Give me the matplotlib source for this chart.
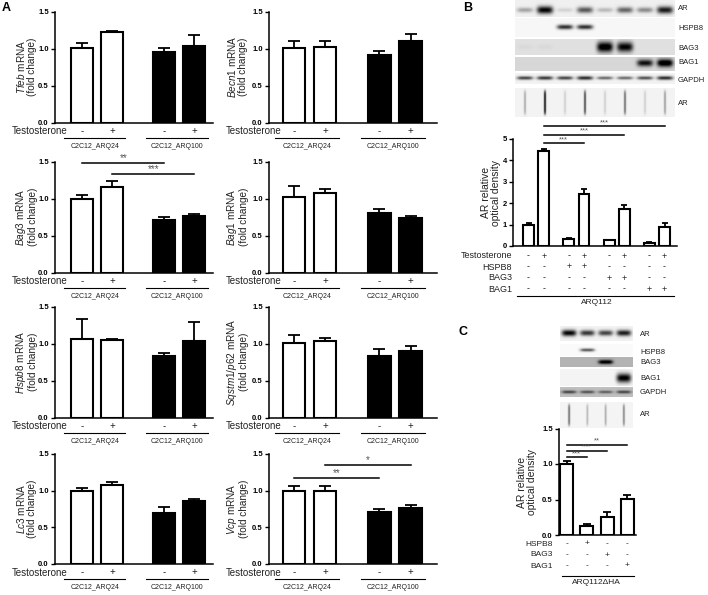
import numpy as np
import matplotlib
matplotlib.use('Agg')
import matplotlib.pyplot as plt
from matplotlib import transforms

plt.rcParams['font.family'] = ['Liberation Sans', 'DejaVu Sans']
plt.rcParams['mathtext.fontset'] = 'custom'
plt.rcParams['mathtext.it'] = 'Liberation Sans:italic'
plt.rcParams['mathtext.rm'] = 'Liberation Sans'

# ---------------- data ----------------
conditions = ['-', '+', '-', '+']          # testosterone
groups = ['C2C12_ARQ24', 'C2C12_ARQ100']
bar_fill = ['white', 'white', 'black', 'black']

tfeb = [1.01, 1.225, 0.96, 1.03];   tfeb_err = [0.065, 0.015, 0.05, 0.15]
becn1 = [1.01, 1.02, 0.92, 1.11];   becn1_err = [0.09, 0.09, 0.045, 0.09]
bag3 = [1.00, 1.16, 0.71, 0.76];    bag3_err = [0.05, 0.08, 0.045, 0.04]
bag1 = [1.02, 1.08, 0.81, 0.74];    bag1_err = [0.15, 0.05, 0.05, 0.03]
hspb8 = [1.07, 1.05, 0.83, 1.04];   hspb8_err = [0.27, 0.02, 0.05, 0.25]
sqstm1 = [1.01, 1.03, 0.83, 0.90];  sqstm1_err = [0.11, 0.05, 0.10, 0.07]
lc3 = [1.00, 1.08, 0.70, 0.86];     lc3_err = [0.035, 0.045, 0.08, 0.02]
vcp = [1.00, 1.00, 0.71, 0.76];     vcp_err = [0.06, 0.06, 0.045, 0.04]

# panel B
b_testo = ['-', '+', '-', '+', '-', '+', '-', '+']
b_hspb8 = ['-', '-', '+', '+', '-', '-', '-', '-']
b_bag3 = ['-', '-', '-', '-', '+', '+', '-', '-']
b_bag1 = ['-', '-', '-', '-', '-', '-', '+', '+']
b_ar = [1.00, 4.43, 0.34, 2.43, 0.27, 1.74, 0.14, 0.88]
b_ar_err = [0.08, 0.12, 0.04, 0.24, 0.03, 0.18, 0.03, 0.18]

# panel C
c_hspb8 = ['-', '+', '-', '-']
c_bag3 = ['-', '-', '+', '-']
c_bag1 = ['-', '-', '-', '+']
c_ar = [1.00, 0.12, 0.25, 0.51]
c_ar_err = [0.04, 0.03, 0.07, 0.05]

# blot band intensities (per lane)
blot_b_ar = [0.30, 0.95, 0.12, 0.60, 0.22, 0.55, 0.40, 0.85]
blot_b_hspb8 = [0, 0, 0.8, 0.8, 0, 0, 0, 0]
blot_b_bag3 = [0.03, 0.03, 0, 0, 1.0, 0.9, 0, 0]
blot_b_bag1 = [0, 0, 0, 0, 0, 0, 0.8, 1.0]
blot_b_gapdh = [0.7, 0.75, 0.7, 0.8, 0.55, 0.55, 0.65, 0.8]
blot_b_slot = [0.3, 0.95, 0.15, 0.7, 0.15, 0.55, 0.15, 0.35]
blot_c_ar = [0.95, 0.75, 0.70, 0.85]
blot_c_hspb8 = [0, 0.65, 0, 0]
blot_c_bag3 = [0, 0, 0.8, 0]
blot_c_bag1 = [0, 0, 0, 1.0]
blot_c_gapdh = [0.5, 0.45, 0.4, 0.5]
blot_c_slot = [0.55, 0.25, 0.3, 0.45]

# ---------------- figure ----------------
W, H = 708, 595
fig = plt.figure(figsize=(7.08, 5.95), dpi=100)


def rect(l, t, r, b):
    return [l / W, 1 - b / H, (r - l) / W, (b - t) / H]


def ftext(x, y, s, **kw):
    fig.text(x / W, 1 - y / H, s, **kw)


TXT = '#222222'


def style_axes(ax, ticks, labels):
    for s in ['top', 'right']:
        ax.spines[s].set_visible(False)
    for s in ['left', 'bottom']:
        ax.spines[s].set_linewidth(1.1)
    ax.set_xticks([])
    ax.set_yticks(ticks)
    ax.set_yticklabels(labels, fontsize=5.5, fontweight='bold')
    ax.tick_params(axis='y', length=3, width=1.0, pad=1.5)


def sig(ax, xa, xb, y, s, fs=6):
    ax.plot([xa, xb], [y, y], color='black', lw=1.1, clip_on=False)
    ax.text((xa + xb) / 2, y, s, ha='center', va='bottom', fontsize=fs,
            color='#555555', clip_on=False)


# ---------------- panel A ----------------
xa = np.array([0, 1, 2.75, 3.75])
panels = [
    ('Tfeb', tfeb, tfeb_err, []),
    ('Becn1', becn1, becn1_err, []),
    ('Bag3', bag3, bag3_err, [(0, 2, 1.48, '**'), (1, 3, 1.33, '***')]),
    ('Bag1', bag1, bag1_err, []),
    ('Hspb8', hspb8, hspb8_err, []),
    ('Sqstm1/p62', sqstm1, sqstm1_err, []),
    ('Lc3', lc3, lc3_err, []),
    ('Vcp', vcp, vcp_err, [(1, 3, 1.35, '*'), (0, 2, 1.17, '**')]),
]
rows = [(11.7, 122.7), (161.7, 272.7), (306.7, 417.7), (454, 564)]
cols = [(55, 213, (-0.9, 4.37), 26), (269, 437, (-0.8, 4.6), 237)]

for k, (gene, vals, errs, sigs) in enumerate(panels):
    r, c = divmod(k, 2)
    top, bot = rows[r]
    l, rr, xl, ylx = cols[c]
    ax = fig.add_axes(rect(l, top, rr, bot))
    ax.bar(xa, vals, width=0.73, color=bar_fill, edgecolor='black', linewidth=1.5, zorder=2)
    ax.errorbar(xa, vals, yerr=[np.zeros(4), errs], fmt='none', ecolor='black',
                elinewidth=1.3, capsize=4, capthick=1.3, zorder=1)
    ax.set_xlim(*xl)
    ax.set_ylim(0, 1.5)
    style_axes(ax, [0, 0.5, 1.0, 1.5], ['0.0', '0.5', '1.0', '1.5'])
    for (i, j, y, s) in sigs:
        sig(ax, xa[i], xa[j], y, s, fs=7)
    tr = transforms.blended_transform_factory(ax.transData, fig.transFigure)
    # testosterone row
    ftext(l + 13, bot + 8.5, 'Testosterone', ha='right', va='center', fontsize=7, color=TXT)
    for x, s in zip(xa, conditions):
        ax.text(x, 1 - (bot + 8.5) / H, s, transform=tr, ha='center', va='center',
                fontsize=7, color=TXT)
    for g, (p0, p1) in enumerate([(0, 1), (2, 3)]):
        ax.plot([xa[p0] - 0.6, xa[p1] + 0.45], [1 - (bot + 15) / H] * 2, transform=tr,
                color='black', lw=0.8, clip_on=False)
        ax.text((xa[p0] + xa[p1]) / 2 - 0.07, 1 - (bot + 23.5) / H, groups[g], transform=tr,
                ha='center', va='center', fontsize=5, color=TXT)
    ftext(ylx, (top + bot) / 2, '$\\it{' + gene + '}$ mRNA\n(fold change)', rotation=90,
          ha='center', va='center', fontsize=7.2, color=TXT, multialignment='center',
          linespacing=0.95)

ftext(6, 8, 'A', fontsize=9, fontweight='bold', ha='center', va='center')
ftext(468, 8, 'B', fontsize=9, fontweight='bold', ha='center', va='center')
ftext(463, 332, 'C', fontsize=9, fontweight='bold', ha='center', va='center')

# ---------------- blots ----------------
bgax = fig.add_axes([0, 0, 1, 1], zorder=-1)
bgax.axis('off')


def strip(vals, x0, x1, y0, y1, bg, cy=None, bh=2.5, wfrac=0.4, slot=False, res=4):
    w = int((x1 - x0) * res)
    h = int((y1 - y0) * res)
    xs = (np.arange(w) + 0.5) / res
    ys = (np.arange(h) + 0.5) / res
    n = len(vals)
    lw = (x1 - x0) / n
    img = np.full((h, w), bg, dtype=float)
    cyl = (cy - y0) if cy is not None else (y1 - y0) / 2
    for i, v in enumerate(vals):
        cx = (i + 0.5) * lw
        if slot:
            gx = np.exp(-((xs - cx) / 1.0) ** 2)
            gy = np.exp(-((ys - cyl) / ((y1 - y0) * 0.42)) ** 8)
        else:
            gx = np.exp(-((xs - cx) / (wfrac * lw)) ** 4)
            gy = np.exp(-((ys - cyl) / (bh * (0.6 + 0.7 * v))) ** 2)
        img += v * np.outer(gy, gx)
    img = np.clip(img, 0, 1)
    bgax.imshow(img, cmap='gray_r', vmin=0, vmax=1, extent=(x0, x1, y1, y0),
                aspect='auto', interpolation='bilinear')


# panel B blots
bx0, bx1 = 515, 675
strip(blot_b_ar, bx0, bx1, 0, 17, 0.06, cy=10, bh=3.0)
strip(blot_b_hspb8, bx0, bx1, 18, 37, 0.03, cy=27, bh=2.0)
strip(blot_b_bag3, bx0, bx1, 39, 55, 0.12, cy=47, bh=4.0)
strip(blot_b_bag1, bx0, bx1, 57, 71, 0.16, cy=63, bh=3.0)
strip(blot_b_gapdh, bx0, bx1, 73, 84, 0.05, cy=78, bh=1.6)
strip(blot_b_slot, bx0, bx1, 88, 117, 0.05, slot=True)
for lab, y in [('AR', 9), ('HSPB8', 28), ('BAG3', 49), ('BAG1', 63), ('GAPDH', 80), ('AR', 103)]:
    ftext(678, y, lab, fontsize=5.5, ha='left', va='center', color=TXT)

# panel C blots
cx0, cx1 = 560, 633
strip(blot_c_ar, cx0, cx1, 326, 341, 0.05, cy=333, bh=2.5)
strip(blot_c_hspb8, cx0, cx1, 344, 356, 0.02, cy=350, bh=1.5)
strip(blot_c_bag3, cx0, cx1, 357, 367, 0.3, cy=362, bh=1.8)
strip(blot_c_bag1, cx0, cx1, 369, 386, 0.04, cy=378, bh=3.5)
strip(blot_c_gapdh, cx0, cx1, 387, 397, 0.25, cy=392, bh=1.6)
strip(blot_c_slot, cx0, cx1, 402, 428, 0.04, slot=True)
for lab, y in [('AR', 335), ('HSPB8', 352), ('BAG3', 362), ('BAG1', 378), ('GAPDH', 392), ('AR', 415)]:
    ftext(640, y, lab, fontsize=5.5, ha='left', va='center', color=TXT)

bgax.set_xlim(0, W)
bgax.set_ylim(H, 0)

# ---------------- panel B chart ----------------
xb = np.array([0, 1, 2.65, 3.65, 5.3, 6.3, 7.95, 8.95])
axb = fig.add_axes(rect(513, 139, 677, 246))
axb.bar(xb, b_ar, width=0.72, color='white', edgecolor='black', linewidth=1.5, zorder=2)
axb.errorbar(xb, b_ar, yerr=[np.zeros(8), b_ar_err], fmt='none', ecolor='black',
             elinewidth=1.3, capsize=2.5, capthick=1.3, zorder=1)
axb.set_xlim(-1.02, 9.77)
axb.set_ylim(0, 5)
style_axes(axb, [0, 1, 2, 3, 4, 5], ['0', '1', '2', '3', '4', '5'])
sig(axb, xb[1], xb[3], 4.79, '***', fs=5.5)
sig(axb, xb[1], xb[5], 5.21, '***', fs=5.5)
sig(axb, xb[1], xb[7], 5.60, '***', fs=5.5)
ftext(491, 192.5, 'AR relative\noptical density', rotation=90, ha='center', va='center',
      fontsize=7.5, color=TXT, multialignment='center', linespacing=1.0)
trb = transforms.blended_transform_factory(axb.transData, fig.transFigure)
for lab, signs, y in [('Testosterone', b_testo, 256), ('HSPB8', b_hspb8, 267),
                      ('BAG3', b_bag3, 278), ('BAG1', b_bag1, 289)]:
    ftext(512, y, lab, ha='right', va='center', fontsize=6.5, color=TXT)
    for x, s in zip(xb, signs):
        axb.text(x, 1 - y / H, s, transform=trb, ha='center', va='center', fontsize=6.5, color=TXT)
axb.plot([-0.75, 9.6], [1 - 296 / H] * 2, transform=trb, color='black', lw=0.8, clip_on=False)
axb.text((xb[0] + xb[-1]) / 2, 1 - 303 / H, 'ARQ112', transform=trb, ha='center', va='center',
         fontsize=6, color=TXT)

# ---------------- panel C chart ----------------
xc = np.array([0, 1, 2, 3])
axc = fig.add_axes(rect(559, 428.5, 636, 535))
axc.bar(xc, c_ar, width=0.64, color='white', edgecolor='black', linewidth=1.5, zorder=2)
axc.errorbar(xc, c_ar, yerr=[np.zeros(4), c_ar_err], fmt='none', ecolor='black',
             elinewidth=1.3, capsize=3, capthick=1.3, zorder=1)
axc.set_xlim(-0.37, 3.42)
axc.set_ylim(0, 1.5)
style_axes(axc, [0, 0.5, 1.0, 1.5], ['0.0', '0.5', '1.0', '1.5'])
sig(axc, xc[0], xc[3], 1.27, '**', fs=5.5)
sig(axc, xc[0], xc[2], 1.19, '***', fs=5.5)
sig(axc, xc[0], xc[1], 1.10, '***', fs=5.5)
ftext(527, 482, 'AR relative\noptical density', rotation=90, ha='center', va='center',
      fontsize=7.5, color=TXT, multialignment='center', linespacing=1.0)
trc = transforms.blended_transform_factory(axc.transData, fig.transFigure)
for lab, signs, y in [('HSPB8', c_hspb8, 544), ('BAG3', c_bag3, 555), ('BAG1', c_bag1, 566)]:
    ftext(553, y, lab, ha='right', va='center', fontsize=6, color=TXT)
    for x, s in zip(xc, signs):
        axc.text(x, 1 - y / H, s, transform=trc, ha='center', va='center', fontsize=6, color=TXT)
axc.plot([-0.22, 3.3], [1 - 576 / H] * 2, transform=trc, color='black', lw=0.8, clip_on=False)
axc.text(1.45, 1 - 583 / H, 'ARQ112\u0394HA', transform=trc, ha='center', va='center',
         fontsize=6, color=TXT)

fig.savefig('out.png', dpi=100)
